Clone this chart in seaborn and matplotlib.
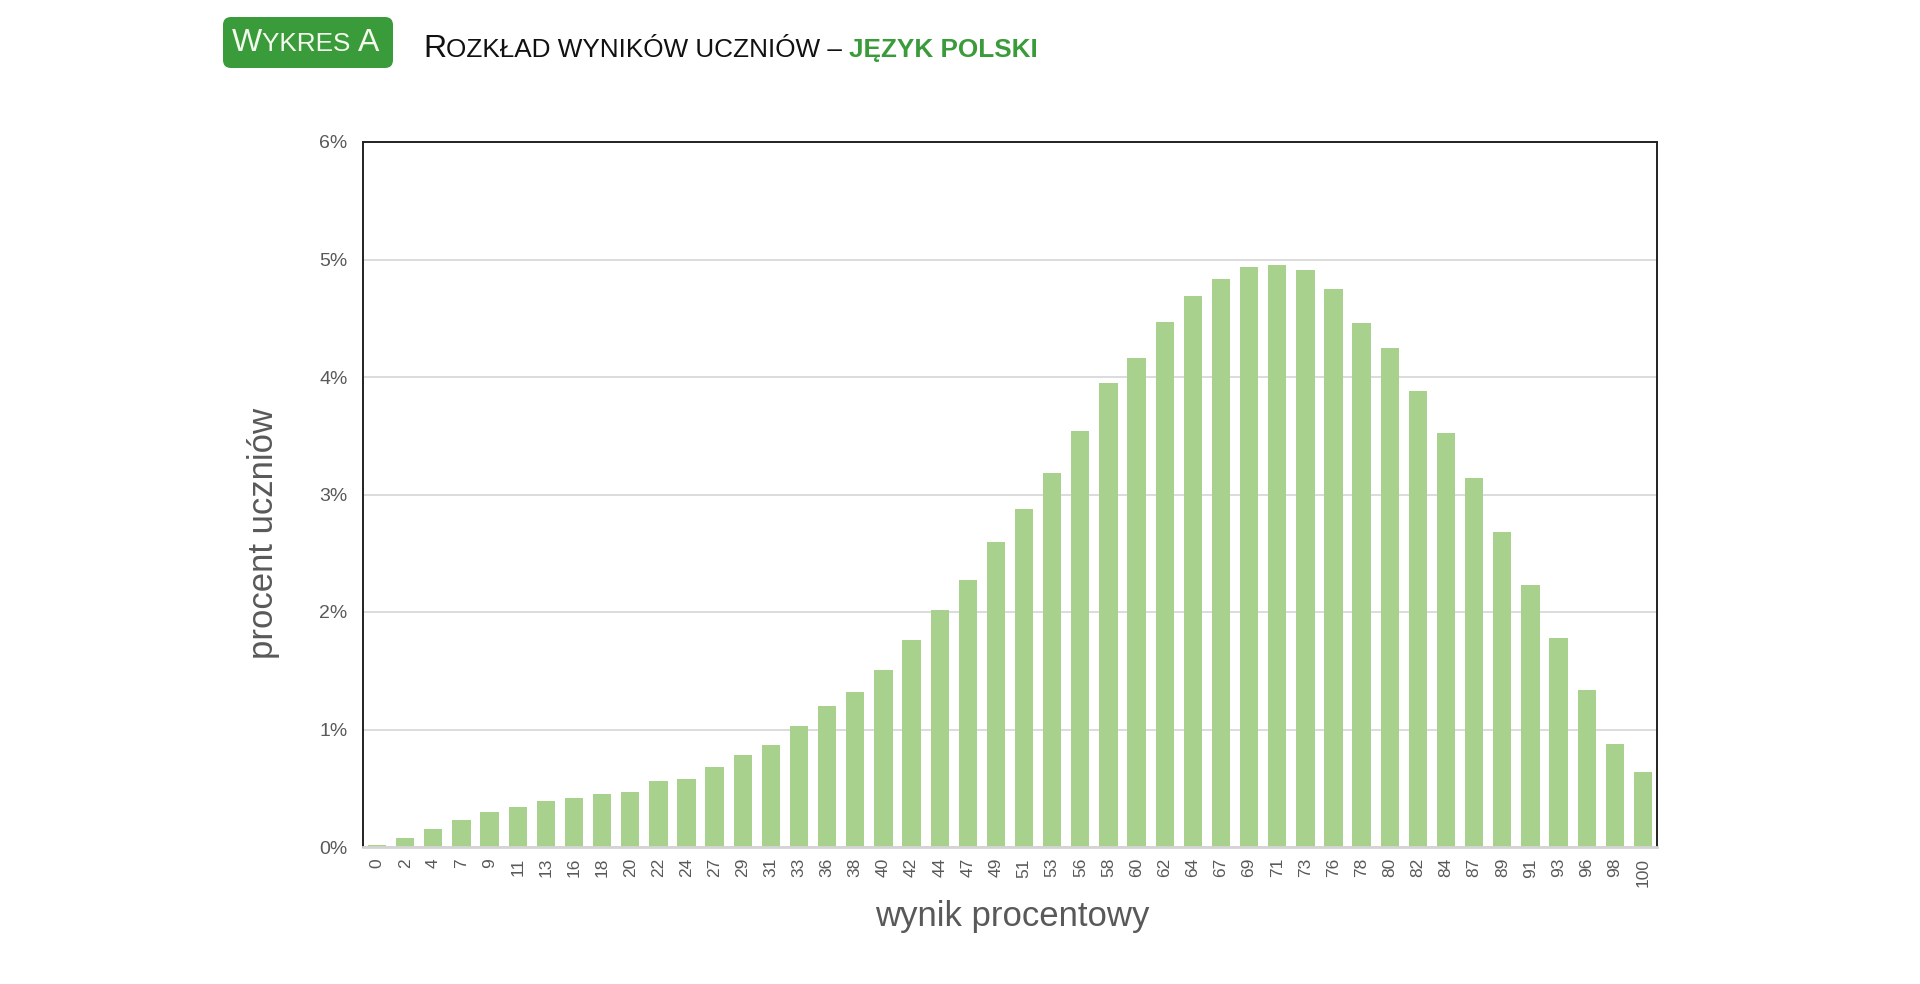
import matplotlib
matplotlib.use("Agg")
import matplotlib.pyplot as plt
import seaborn as sns
import pandas as pd
from matplotlib.patches import FancyBboxPatch
from matplotlib.transforms import IdentityTransform

# score bins (percent score) and share of students in each bin
wynik = ['0', '2', '4', '7', '9', '11', '13', '16', '18', '20', '22', '24', '27', '29', '31',
         '33', '36', '38', '40', '42', '44', '47', '49', '51', '53', '56', '58', '60', '62',
         '64', '67', '69', '71', '73', '76', '78', '80', '82', '84', '87', '89', '91', '93',
         '96', '98', '100']
procent = [0.02, 0.08, 0.15, 0.23, 0.30, 0.34, 0.39, 0.42, 0.45, 0.47, 0.56, 0.58, 0.68,
           0.78, 0.87, 1.03, 1.20, 1.32, 1.51, 1.76, 2.02, 2.27, 2.60, 2.88, 3.18, 3.54,
           3.95, 4.16, 4.47, 4.69, 4.83, 4.94, 4.95, 4.91, 4.75, 4.46, 4.25, 3.88, 3.52,
           3.14, 2.68, 2.23, 1.78, 1.34, 0.88, 0.64]
y_ticks = [0, 1, 2, 3, 4, 5, 6]

bar_green = '#a9d18e'
dark_green = '#3a9b3a'
grey_text = '#595959'

sns.set_style('white')
plt.rcParams['font.family'] = ['Liberation Sans', 'DejaVu Sans']

df = pd.DataFrame({'wynik': wynik, 'procent': procent})

W, H, DPI = 1920, 984, 100
fig = plt.figure(figsize=(W / DPI, H / DPI), dpi=DPI)
ax = fig.add_axes([363 / W, 1 - 847 / H, 1294 / W, 705 / H])

sns.barplot(data=df, x='wynik', y='procent', color=bar_green, saturation=1,
            width=0.65, linewidth=0, ax=ax)

ax.set_ylim(0, 6)
ax.set_xlim(-0.5, len(wynik) - 0.5)
ax.set_yticks(y_ticks)
ax.set_yticklabels([f'{v}%' for v in y_ticks])
ax.yaxis.grid(True, color='#d9d9d9', linewidth=1.3)
ax.set_axisbelow(True)

ax.tick_params(axis='y', length=0, pad=11, labelsize=14, labelcolor=grey_text)
ax.tick_params(axis='x', length=0, pad=8, labelsize=12.5, labelcolor=grey_text,
               labelrotation=90)

for side in ['top', 'left', 'right']:
    ax.spines[side].set_color('#222222')
    ax.spines[side].set_linewidth(1.4)
ax.spines['bottom'].set_color('#d4d4d4')
ax.spines['bottom'].set_linewidth(2)

ax.set_ylabel('procent uczniów', fontsize=25, color=grey_text)
ax.yaxis.set_label_coords(-0.064, 0.445)
ax.set_xlabel('wynik procentowy', fontsize=25, color=grey_text)
ax.xaxis.set_label_coords(0.5015, -0.075)

# header: green badge + small-caps style title
fig.add_artist(FancyBboxPatch((223, H - 68), 170, 51,
                              boxstyle='round,pad=0,rounding_size=8',
                              transform=IdentityTransform(),
                              facecolor=dark_green, edgecolor='none'))

renderer = fig.canvas.get_renderer()


def put_runs(x, baseline, runs):
    for s, size, weight, color in runs:
        t = fig.text(x, H - baseline, s, transform=IdentityTransform(),
                     fontsize=size, fontweight=weight, color=color,
                     ha='left', va='baseline')
        x = t.get_window_extent(renderer).x1
    return x


put_runs(232, 51, [('W', 23, 'normal', '#f4f9ee'),
                   ('YKRES ', 18.8, 'normal', '#f4f9ee'),
                   ('A', 23, 'normal', '#f4f9ee')])

put_runs(423, 57, [('R', 23, 'normal', '#111111'),
                   ('OZKŁAD WYNIKÓW UCZNIÓW – ', 18.8, 'normal', '#111111'),
                   ('JĘZYK POLSKI', 18.8, 'bold', dark_green)])

fig.savefig('out.png', dpi=DPI, facecolor='white')
